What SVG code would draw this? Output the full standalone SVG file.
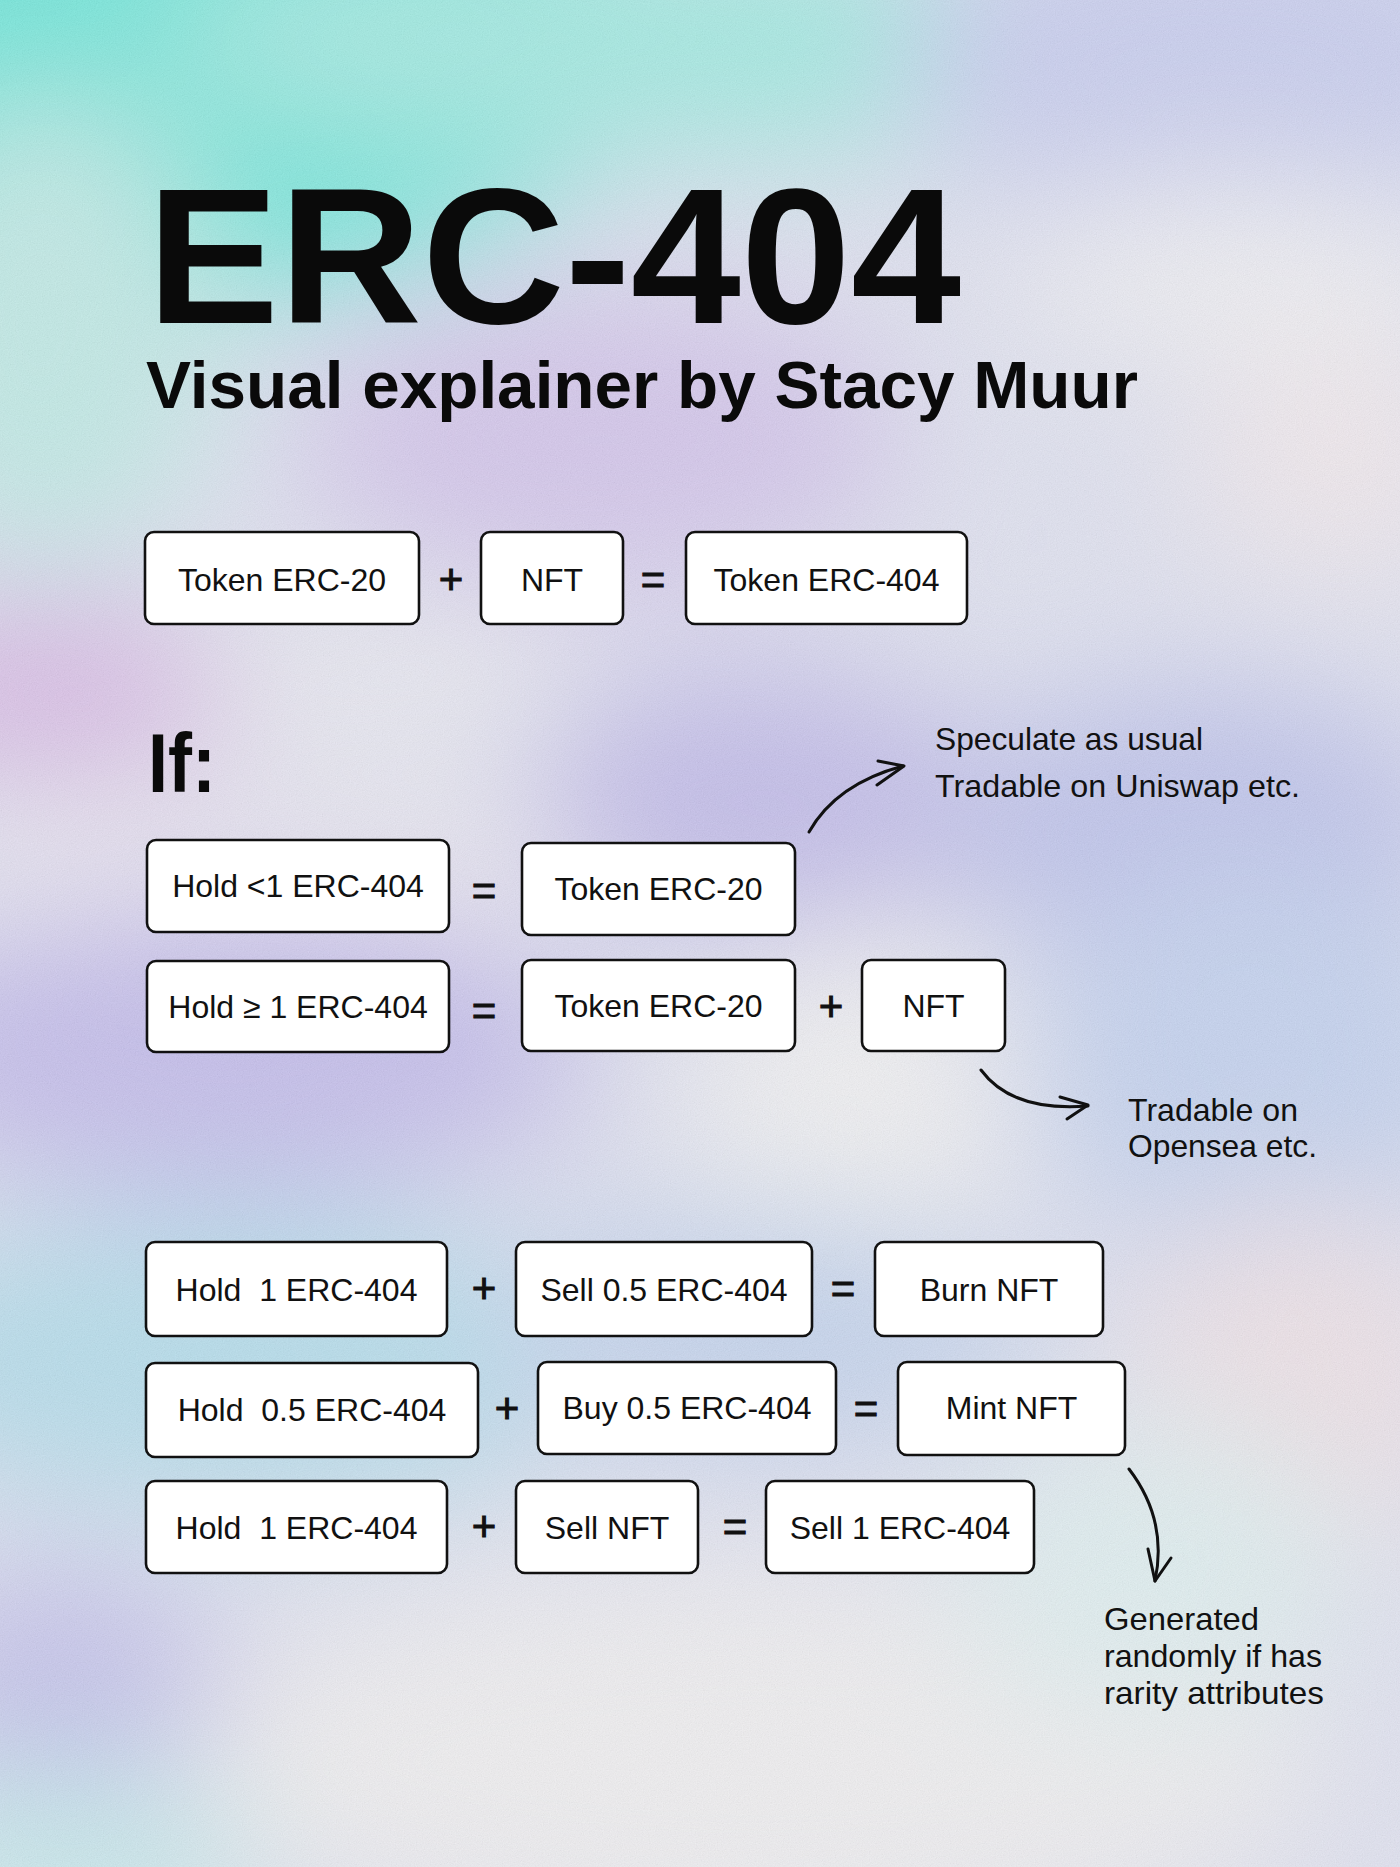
<svg xmlns="http://www.w3.org/2000/svg" width="1400" height="1867" viewBox="0 0 1400 1867">
<defs>
<filter id="blur" x="-20%" y="-20%" width="140%" height="140%"><feGaussianBlur stdDeviation="65"/></filter>
<filter id="grain" x="0" y="0" width="100%" height="100%">
<feTurbulence type="fractalNoise" baseFrequency="0.85" numOctaves="2" stitchTiles="stitch"/>
<feColorMatrix type="matrix" values="0.33 0.33 0.33 0 0 0.33 0.33 0.33 0 0 0.33 0.33 0.33 0 0 0 0 0 0 0.16"/>
</filter>
<style>
.box{fill:#fff;stroke:#111;stroke-width:2.6}
.bt{font-family:"Liberation Sans",Arial,sans-serif;font-size:32px;fill:#111;text-anchor:middle;white-space:pre}
.op{font-family:"Liberation Sans",Arial,sans-serif;font-size:42px;fill:#111;stroke:#111;stroke-width:1;text-anchor:middle}
.note{font-family:"Liberation Sans",Arial,sans-serif;font-size:32px;fill:#111}
.h{font-family:"Liberation Sans",Arial,sans-serif;font-weight:bold;fill:#0a0a0a}
.arr{fill:none;stroke:#111;stroke-width:3;stroke-linecap:round;stroke-linejoin:round}
</style>
</defs>
<g id="background">
<rect width="1400" height="1867" fill="#e2e4f3"/>
<g filter="url(#blur)">
<ellipse cx="110" cy="30" rx="560" ry="280" fill="#6fe8dc"/>
<ellipse cx="640" cy="40" rx="480" ry="120" fill="#a4ece4"/>
<ellipse cx="1220" cy="60" rx="320" ry="170" fill="#cbd0f2"/>
<ellipse cx="1240" cy="270" rx="230" ry="90" fill="#f2f2f6"/>
<ellipse cx="1340" cy="460" rx="150" ry="120" fill="#f3ebf0"/>
<ellipse cx="40" cy="330" rx="180" ry="230" fill="#c2ece8"/>
<ellipse cx="600" cy="440" rx="300" ry="150" fill="#d6c8ee"/>
<ellipse cx="60" cy="690" rx="220" ry="90" fill="#dbbde8"/>
<ellipse cx="380" cy="680" rx="200" ry="60" fill="#eeedf4"/>
<ellipse cx="760" cy="800" rx="230" ry="130" fill="#c4beec"/>
<ellipse cx="1200" cy="830" rx="260" ry="140" fill="#c0c4ee"/>
<ellipse cx="260" cy="870" rx="330" ry="60" fill="#f1edf4"/>
<ellipse cx="230" cy="1050" rx="360" ry="150" fill="#c6bfee"/>
<ellipse cx="850" cy="1110" rx="160" ry="170" fill="#f3f3f5"/>
<ellipse cx="1260" cy="1060" rx="230" ry="200" fill="#c6d4f2"/>
<ellipse cx="230" cy="1360" rx="380" ry="150" fill="#b7dfee"/>
<ellipse cx="760" cy="1330" rx="280" ry="120" fill="#c6d6f0"/>
<ellipse cx="1300" cy="1380" rx="170" ry="180" fill="#f0e4ea"/>
<ellipse cx="60" cy="1680" rx="160" ry="110" fill="#c6c4ee"/>
<ellipse cx="60" cy="1860" rx="200" ry="90" fill="#c8ecee"/>
<ellipse cx="760" cy="1760" rx="560" ry="190" fill="#f2f1f3"/>
<ellipse cx="1150" cy="1570" rx="200" ry="150" fill="#e2f1f3"/>
</g>
<rect width="1400" height="1867" filter="url(#grain)"/>
</g>
<g id="title">
<text class="h" x="147" y="323" font-size="193" textLength="814" lengthAdjust="spacingAndGlyphs">ERC-404</text>
<text class="h" x="146" y="408" font-size="67" textLength="992" lengthAdjust="spacingAndGlyphs">Visual explainer by Stacy Muur</text>
<text class="h" x="148" y="792" font-size="84" textLength="68" lengthAdjust="spacingAndGlyphs">If:</text>
</g>
<g id="connectors">
<path class="arr" d="M809,832 Q836,784 903,766"/>
<polyline class="arr" points="878,761 904,766 877,785"/>
<path class="arr" d="M981,1070 Q1012,1112 1088,1106"/>
<polyline class="arr" points="1060,1097 1088,1105 1067,1119"/>
<path class="arr" d="M1129,1469 Q1168,1520 1155,1581"/>
<polyline class="arr" points="1148,1549 1155,1581 1171,1558"/>
</g>
<g id="row1">
<g id="n-token-erc20-a"><rect class="box" x="145" y="532" width="274" height="92" rx="9"/><text class="bt" x="282" y="591">Token ERC-20</text></g>
<text class="op" x="451" y="594">+</text>
<g id="n-nft-a"><rect class="box" x="481" y="532" width="142" height="92" rx="9"/><text class="bt" x="552" y="591">NFT</text></g>
<text class="op" x="653" y="594">=</text>
<g id="n-token-erc404"><rect class="box" x="686" y="532" width="281" height="92" rx="9"/><text class="bt" x="826.5" y="591">Token ERC-404</text></g>
</g>
<g id="row2">
<g id="n-hold-lt1"><rect class="box" x="147" y="840" width="302" height="92" rx="9"/><text class="bt" x="298" y="897">Hold &lt;1 ERC-404</text></g>
<text class="op" x="484" y="905">=</text>
<g id="n-token-erc20-b"><rect class="box" x="522" y="843" width="273" height="92" rx="9"/><text class="bt" x="658.5" y="900">Token ERC-20</text></g>
</g>
<g id="row3">
<g id="n-hold-ge1"><rect class="box" x="147" y="961" width="302" height="91" rx="9"/><text class="bt" x="298" y="1018">Hold ≥ 1 ERC-404</text></g>
<text class="op" x="484" y="1025">=</text>
<g id="n-token-erc20-c"><rect class="box" x="522" y="960" width="273" height="91" rx="9"/><text class="bt" x="658.5" y="1017">Token ERC-20</text></g>
<text class="op" x="831" y="1021">+</text>
<g id="n-nft-b"><rect class="box" x="862" y="960" width="143" height="91" rx="9"/><text class="bt" x="933.5" y="1017">NFT</text></g>
</g>
<g id="notes">
<text class="note" x="935" y="750" font-size="33" textLength="268" lengthAdjust="spacingAndGlyphs">Speculate as usual</text>
<text class="note" x="935" y="797" font-size="33" textLength="365" lengthAdjust="spacingAndGlyphs">Tradable on Uniswap etc.</text>
<text class="note" x="1128" y="1121" textLength="170" lengthAdjust="spacingAndGlyphs">Tradable on</text>
<text class="note" x="1128" y="1157" textLength="189" lengthAdjust="spacingAndGlyphs">Opensea etc.</text>
<text class="note" x="1104" y="1630" textLength="155" lengthAdjust="spacingAndGlyphs">Generated</text>
<text class="note" x="1104" y="1667" textLength="218" lengthAdjust="spacingAndGlyphs">randomly if has</text>
<text class="note" x="1104" y="1704" textLength="220" lengthAdjust="spacingAndGlyphs">rarity attributes</text>
</g>
<g id="row4">
<g id="n-hold1-a"><rect class="box" x="146" y="1242" width="301" height="94" rx="9"/><text class="bt" x="296.5" y="1301">Hold  1 ERC-404</text></g>
<text class="op" x="484" y="1303">+</text>
<g id="n-sell05"><rect class="box" x="516" y="1242" width="296" height="94" rx="9"/><text class="bt" x="664" y="1301">Sell 0.5 ERC-404</text></g>
<text class="op" x="843" y="1303">=</text>
<g id="n-burn"><rect class="box" x="875" y="1242" width="228" height="94" rx="9"/><text class="bt" x="989" y="1301">Burn NFT</text></g>
</g>
<g id="row5">
<g id="n-hold05"><rect class="box" x="146" y="1363" width="332" height="94" rx="9"/><text class="bt" x="312" y="1421">Hold  0.5 ERC-404</text></g>
<text class="op" x="507" y="1423">+</text>
<g id="n-buy05"><rect class="box" x="538" y="1362" width="298" height="92" rx="9"/><text class="bt" x="687" y="1419">Buy 0.5 ERC-404</text></g>
<text class="op" x="866" y="1423">=</text>
<g id="n-mint"><rect class="box" x="898" y="1362" width="227" height="93" rx="9"/><text class="bt" x="1011.5" y="1419">Mint NFT</text></g>
</g>
<g id="row6">
<g id="n-hold1-b"><rect class="box" x="146" y="1481" width="301" height="92" rx="9"/><text class="bt" x="296.5" y="1539">Hold  1 ERC-404</text></g>
<text class="op" x="484" y="1541">+</text>
<g id="n-sellnft"><rect class="box" x="516" y="1481" width="182" height="92" rx="9"/><text class="bt" x="607" y="1539">Sell NFT</text></g>
<text class="op" x="735" y="1541">=</text>
<g id="n-sell1"><rect class="box" x="766" y="1481" width="268" height="92" rx="9"/><text class="bt" x="900" y="1539">Sell 1 ERC-404</text></g>
</g>
</svg>
